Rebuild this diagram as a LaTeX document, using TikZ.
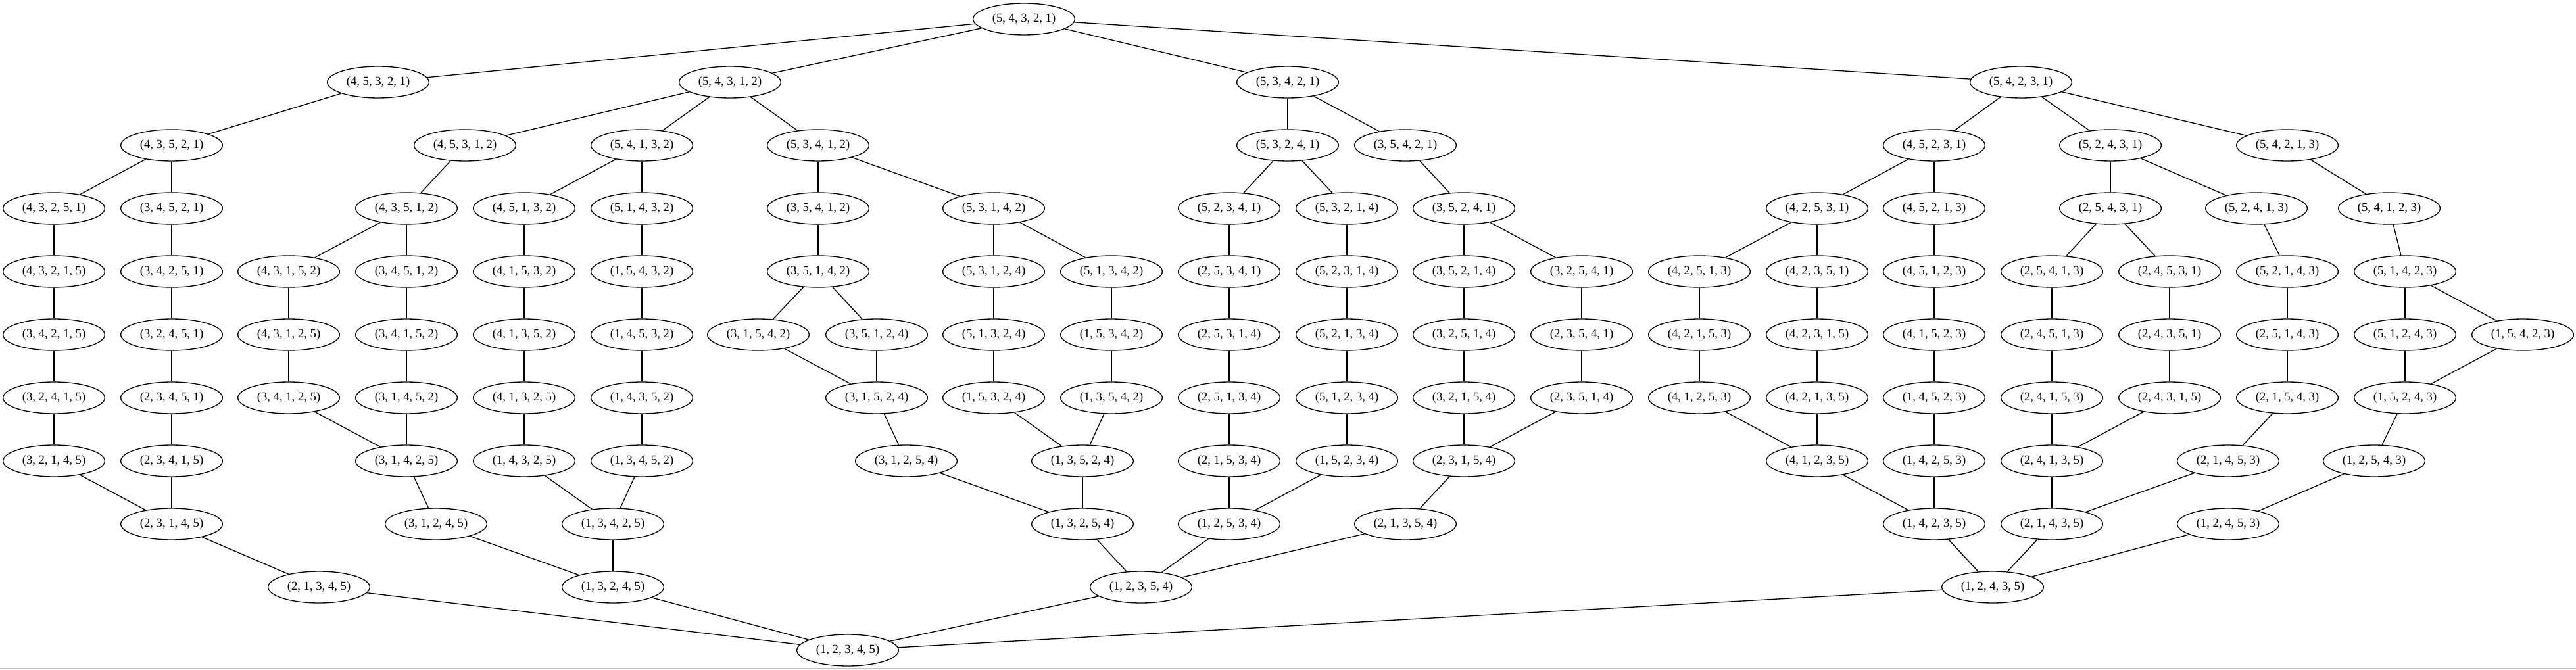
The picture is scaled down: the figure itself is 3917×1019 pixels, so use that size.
\documentclass[tikz,border=0pt]{standalone}
\usepackage{fontspec}
\setmainfont{Liberation Serif}
\usetikzlibrary{shapes.geometric}

\begin{document}
\begin{tikzpicture}[x=0.75pt,y=-0.75pt,line width=1pt,
        perm/.style={ellipse,draw,minimum width=116pt,minimum height=36pt,inner sep=0pt,
            font=\fontsize{14}{16}\selectfont}]
        \useasboundingbox (0,0) rectangle (3917,1019);
        % row 0
        \node[perm](p54321) at (1557,29)  {(5, 4, 3, 2, 1)};
        % row 1
        \node[perm](p45321) at (575,125)  {(4, 5, 3, 2, 1)};
        \node[perm](p54312) at (1110,125) {(5, 4, 3, 1, 2)};
        \node[perm](p53421) at (1958,125) {(5, 3, 4, 2, 1)};
        \node[perm](p54231) at (3073,125) {(5, 4, 2, 3, 1)};
        % row 2
        \node[perm](p43521) at (261,221)  {(4, 3, 5, 2, 1)};
        \node[perm](p45312) at (707,221)  {(4, 5, 3, 1, 2)};
        \node[perm](p54132) at (976,221)  {(5, 4, 1, 3, 2)};
        \node[perm](p53412) at (1244,221) {(5, 3, 4, 1, 2)};
        \node[perm](p53241) at (1958,221) {(5, 3, 2, 4, 1)};
        \node[perm](p35421) at (2137,221) {(3, 5, 4, 2, 1)};
        \node[perm](p45231) at (2941,221) {(4, 5, 2, 3, 1)};
        \node[perm](p52431) at (3209,221) {(5, 2, 4, 3, 1)};
        \node[perm](p54213) at (3478,221) {(5, 4, 2, 1, 3)};
        % row 3
        \node[perm](p43251) at (82,317)   {(4, 3, 2, 5, 1)};
        \node[perm](p34521) at (261,317)  {(3, 4, 5, 2, 1)};
        \node[perm](p43512) at (618,317)  {(4, 3, 5, 1, 2)};
        \node[perm](p45132) at (797,317)  {(4, 5, 1, 3, 2)};
        \node[perm](p51432) at (976,317)  {(5, 1, 4, 3, 2)};
        \node[perm](p35412) at (1244,317) {(3, 5, 4, 1, 2)};
        \node[perm](p53142) at (1511,317) {(5, 3, 1, 4, 2)};
        \node[perm](p52341) at (1869,317) {(5, 2, 3, 4, 1)};
        \node[perm](p53214) at (2048,317) {(5, 3, 2, 1, 4)};
        \node[perm](p35241) at (2226,317) {(3, 5, 2, 4, 1)};
        \node[perm](p42531) at (2763,317) {(4, 2, 5, 3, 1)};
        \node[perm](p45213) at (2941,317) {(4, 5, 2, 1, 3)};
        \node[perm](p25431) at (3209,317) {(2, 5, 4, 3, 1)};
        \node[perm](p52413) at (3431,317) {(5, 2, 4, 1, 3)};
        \node[perm](p54123) at (3633,317) {(5, 4, 1, 2, 3)};
        % row 4
        \node[perm](p43215) at (82,413)   {(4, 3, 2, 1, 5)};
        \node[perm](p34251) at (261,413)  {(3, 4, 2, 5, 1)};
        \node[perm](p43152) at (439,413)  {(4, 3, 1, 5, 2)};
        \node[perm](p34512) at (618,413)  {(3, 4, 5, 1, 2)};
        \node[perm](p41532) at (797,413)  {(4, 1, 5, 3, 2)};
        \node[perm](p15432) at (976,413)  {(1, 5, 4, 3, 2)};
        \node[perm](p35142) at (1244,413) {(3, 5, 1, 4, 2)};
        \node[perm](p53124) at (1511,413) {(5, 3, 1, 2, 4)};
        \node[perm](p51342) at (1690,413) {(5, 1, 3, 4, 2)};
        \node[perm](p25341) at (1869,413) {(2, 5, 3, 4, 1)};
        \node[perm](p52314) at (2048,413) {(5, 2, 3, 1, 4)};
        \node[perm](p35214) at (2226,413) {(3, 5, 2, 1, 4)};
        \node[perm](p32541) at (2405,413) {(3, 2, 5, 4, 1)};
        \node[perm](p42513) at (2584,413) {(4, 2, 5, 1, 3)};
        \node[perm](p42351) at (2763,413) {(4, 2, 3, 5, 1)};
        \node[perm](p45123) at (2941,413) {(4, 5, 1, 2, 3)};
        \node[perm](p25413) at (3120,413) {(2, 5, 4, 1, 3)};
        \node[perm](p24531) at (3299,413) {(2, 4, 5, 3, 1)};
        \node[perm](p52143) at (3478,413) {(5, 2, 1, 4, 3)};
        \node[perm](p51423) at (3657,413) {(5, 1, 4, 2, 3)};
        % row 5
        \node[perm](p34215) at (82,509)   {(3, 4, 2, 1, 5)};
        \node[perm](p32451) at (261,509)  {(3, 2, 4, 5, 1)};
        \node[perm](p43125) at (439,509)  {(4, 3, 1, 2, 5)};
        \node[perm](p34152) at (618,509)  {(3, 4, 1, 5, 2)};
        \node[perm](p41352) at (797,509)  {(4, 1, 3, 5, 2)};
        \node[perm](p14532) at (976,509)  {(1, 4, 5, 3, 2)};
        \node[perm](p31542) at (1153,509) {(3, 1, 5, 4, 2)};
        \node[perm](p35124) at (1333,509) {(3, 5, 1, 2, 4)};
        \node[perm](p51324) at (1511,509) {(5, 1, 3, 2, 4)};
        \node[perm](p15342) at (1690,509) {(1, 5, 3, 4, 2)};
        \node[perm](p25314) at (1869,509) {(2, 5, 3, 1, 4)};
        \node[perm](p52134) at (2048,509) {(5, 2, 1, 3, 4)};
        \node[perm](p32514) at (2226,509) {(3, 2, 5, 1, 4)};
        \node[perm](p23541) at (2405,509) {(2, 3, 5, 4, 1)};
        \node[perm](p42153) at (2584,509) {(4, 2, 1, 5, 3)};
        \node[perm](p42315) at (2763,509) {(4, 2, 3, 1, 5)};
        \node[perm](p41523) at (2941,509) {(4, 1, 5, 2, 3)};
        \node[perm](p24513) at (3120,509) {(2, 4, 5, 1, 3)};
        \node[perm](p24351) at (3299,509) {(2, 4, 3, 5, 1)};
        \node[perm](p25143) at (3478,509) {(2, 5, 1, 4, 3)};
        \node[perm](p51243) at (3657,509) {(5, 1, 2, 4, 3)};
        \node[perm](p15423) at (3836,509) {(1, 5, 4, 2, 3)};
        % row 6
        \node[perm](p32415) at (82,605)   {(3, 2, 4, 1, 5)};
        \node[perm](p23451) at (261,605)  {(2, 3, 4, 5, 1)};
        \node[perm](p34125) at (439,605)  {(3, 4, 1, 2, 5)};
        \node[perm](p31452) at (618,605)  {(3, 1, 4, 5, 2)};
        \node[perm](p41325) at (797,605)  {(4, 1, 3, 2, 5)};
        \node[perm](p14352) at (976,605)  {(1, 4, 3, 5, 2)};
        \node[perm](p31524) at (1333,605) {(3, 1, 5, 2, 4)};
        \node[perm](p15324) at (1511,605) {(1, 5, 3, 2, 4)};
        \node[perm](p13542) at (1690,605) {(1, 3, 5, 4, 2)};
        \node[perm](p25134) at (1869,605) {(2, 5, 1, 3, 4)};
        \node[perm](p51234) at (2048,605) {(5, 1, 2, 3, 4)};
        \node[perm](p32154) at (2226,605) {(3, 2, 1, 5, 4)};
        \node[perm](p23514) at (2405,605) {(2, 3, 5, 1, 4)};
        \node[perm](p41253) at (2584,605) {(4, 1, 2, 5, 3)};
        \node[perm](p42135) at (2763,605) {(4, 2, 1, 3, 5)};
        \node[perm](p14523) at (2941,605) {(1, 4, 5, 2, 3)};
        \node[perm](p24153) at (3120,605) {(2, 4, 1, 5, 3)};
        \node[perm](p24315) at (3299,605) {(2, 4, 3, 1, 5)};
        \node[perm](p21543) at (3478,605) {(2, 1, 5, 4, 3)};
        \node[perm](p15243) at (3657,605) {(1, 5, 2, 4, 3)};
        % row 7
        \node[perm](p32145) at (82,701)   {(3, 2, 1, 4, 5)};
        \node[perm](p23415) at (261,701)  {(2, 3, 4, 1, 5)};
        \node[perm](p31425) at (618,701)  {(3, 1, 4, 2, 5)};
        \node[perm](p14325) at (797,701)  {(1, 4, 3, 2, 5)};
        \node[perm](p13452) at (976,701)  {(1, 3, 4, 5, 2)};
        \node[perm](p31254) at (1378,701) {(3, 1, 2, 5, 4)};
        \node[perm](p13524) at (1646,701) {(1, 3, 5, 2, 4)};
        \node[perm](p21534) at (1869,701) {(2, 1, 5, 3, 4)};
        \node[perm](p15234) at (2048,701) {(1, 5, 2, 3, 4)};
        \node[perm](p23154) at (2226,701) {(2, 3, 1, 5, 4)};
        \node[perm](p41235) at (2763,701) {(4, 1, 2, 3, 5)};
        \node[perm](p14253) at (2941,701) {(1, 4, 2, 5, 3)};
        \node[perm](p24135) at (3120,701) {(2, 4, 1, 3, 5)};
        \node[perm](p21453) at (3388,701) {(2, 1, 4, 5, 3)};
        \node[perm](p12543) at (3610,701) {(1, 2, 5, 4, 3)};
        % row 8
        \node[perm](p23145) at (261,797)  {(2, 3, 1, 4, 5)};
        \node[perm](p31245) at (663,797)  {(3, 1, 2, 4, 5)};
        \node[perm](p13425) at (932,797)  {(1, 3, 4, 2, 5)};
        \node[perm](p13254) at (1646,797) {(1, 3, 2, 5, 4)};
        \node[perm](p12534) at (1869,797) {(1, 2, 5, 3, 4)};
        \node[perm](p21354) at (2137,797) {(2, 1, 3, 5, 4)};
        \node[perm](p14235) at (2941,797) {(1, 4, 2, 3, 5)};
        \node[perm](p21435) at (3120,797) {(2, 1, 4, 3, 5)};
        \node[perm](p12453) at (3388,797) {(1, 2, 4, 5, 3)};
        % row 9
        \node[perm](p21345) at (485,893)  {(2, 1, 3, 4, 5)};
        \node[perm](p13245) at (932,893)  {(1, 3, 2, 4, 5)};
        \node[perm](p12354) at (1735,893) {(1, 2, 3, 5, 4)};
        \node[perm](p12435) at (3030,893) {(1, 2, 4, 3, 5)};
        % row 10
        \node[perm](p12345) at (1289,989) {(1, 2, 3, 4, 5)};
        \path
            (p54321) edge (p45321) edge (p54312) edge (p53421) edge (p54231)
            (p45321) edge (p43521)
            (p54312) edge (p45312) edge (p54132) edge (p53412)
            (p53421) edge (p53241) edge (p35421)
            (p54231) edge (p45231) edge (p52431) edge (p54213)
            (p43521) edge (p43251) edge (p34521)
            (p45312) edge (p43512)
            (p54132) edge (p45132) edge (p51432)
            (p53412) edge (p35412) edge (p53142)
            (p53241) edge (p52341) edge (p53214)
            (p35421) edge (p35241)
            (p45231) edge (p42531) edge (p45213)
            (p52431) edge (p25431) edge (p52413)
            (p54213) edge (p54123)
            (p43251) edge (p43215)
            (p34521) edge (p34251)
            (p43512) edge (p43152) edge (p34512)
            (p45132) edge (p41532)
            (p51432) edge (p15432)
            (p35412) edge (p35142)
            (p53142) edge (p53124) edge (p51342)
            (p52341) edge (p25341)
            (p53214) edge (p52314)
            (p35241) edge (p35214) edge (p32541)
            (p42531) edge (p42513) edge (p42351)
            (p45213) edge (p45123)
            (p25431) edge (p25413) edge (p24531)
            (p52413) edge (p52143)
            (p54123) edge (p51423)
            (p43215) edge (p34215)
            (p34251) edge (p32451)
            (p43152) edge (p43125)
            (p34512) edge (p34152)
            (p41532) edge (p41352)
            (p15432) edge (p14532)
            (p35142) edge (p31542) edge (p35124)
            (p53124) edge (p51324)
            (p51342) edge (p15342)
            (p25341) edge (p25314)
            (p52314) edge (p52134)
            (p35214) edge (p32514)
            (p32541) edge (p23541)
            (p42513) edge (p42153)
            (p42351) edge (p42315)
            (p45123) edge (p41523)
            (p25413) edge (p24513)
            (p24531) edge (p24351)
            (p52143) edge (p25143)
            (p51423) edge (p51243) edge (p15423)
            (p34215) edge (p32415)
            (p32451) edge (p23451)
            (p43125) edge (p34125)
            (p34152) edge (p31452)
            (p41352) edge (p41325)
            (p14532) edge (p14352)
            (p31542) edge (p31524)
            (p35124) edge (p31524)
            (p51324) edge (p15324)
            (p15342) edge (p13542)
            (p25314) edge (p25134)
            (p52134) edge (p51234)
            (p32514) edge (p32154)
            (p23541) edge (p23514)
            (p42153) edge (p41253)
            (p42315) edge (p42135)
            (p41523) edge (p14523)
            (p24513) edge (p24153)
            (p24351) edge (p24315)
            (p25143) edge (p21543)
            (p51243) edge (p15243)
            (p15423) edge (p15243)
            (p32415) edge (p32145)
            (p23451) edge (p23415)
            (p34125) edge (p31425)
            (p31452) edge (p31425)
            (p41325) edge (p14325)
            (p14352) edge (p13452)
            (p31524) edge (p31254)
            (p15324) edge (p13524)
            (p13542) edge (p13524)
            (p25134) edge (p21534)
            (p51234) edge (p15234)
            (p32154) edge (p23154)
            (p23514) edge (p23154)
            (p41253) edge (p41235)
            (p42135) edge (p41235)
            (p14523) edge (p14253)
            (p24153) edge (p24135)
            (p24315) edge (p24135)
            (p21543) edge (p21453)
            (p15243) edge (p12543)
            (p32145) edge (p23145)
            (p23415) edge (p23145)
            (p31425) edge (p31245)
            (p14325) edge (p13425)
            (p13452) edge (p13425)
            (p31254) edge (p13254)
            (p13524) edge (p13254)
            (p21534) edge (p12534)
            (p15234) edge (p12534)
            (p23154) edge (p21354)
            (p41235) edge (p14235)
            (p14253) edge (p14235)
            (p24135) edge (p21435)
            (p21453) edge (p21435)
            (p12543) edge (p12453)
            (p23145) edge (p21345)
            (p31245) edge (p13245)
            (p13425) edge (p13245)
            (p13254) edge (p12354)
            (p12534) edge (p12354)
            (p21354) edge (p12354)
            (p14235) edge (p12435)
            (p21435) edge (p12435)
            (p12453) edge (p12435)
            (p21345) edge (p12345)
            (p13245) edge (p12345)
            (p12354) edge (p12345)
            (p12435) edge (p12345)
            ;
        \draw[gray!50,line width=1.5pt] (0,1017) -- (3917,1017);
    \end{tikzpicture}
\end{document}
